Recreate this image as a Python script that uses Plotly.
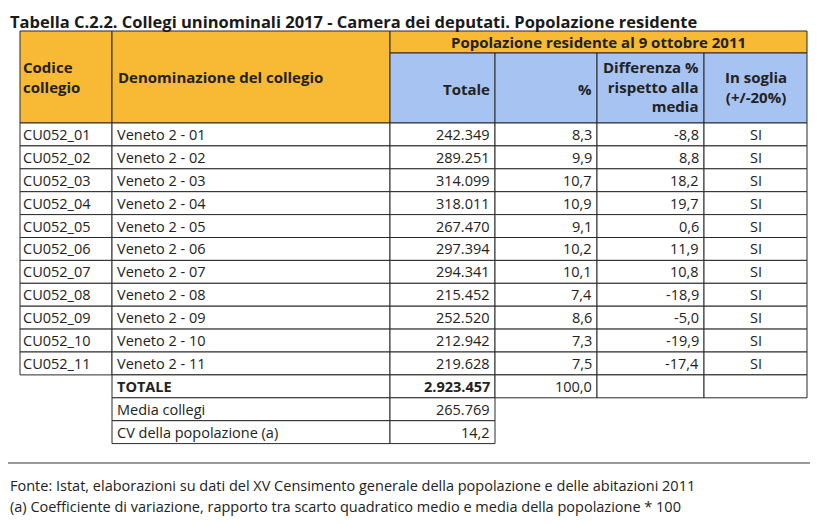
import plotly.graph_objects as go

# dati della tabella
codici = ["CU052_01", "CU052_02", "CU052_03", "CU052_04", "CU052_05", "CU052_06",
          "CU052_07", "CU052_08", "CU052_09", "CU052_10", "CU052_11"]
collegi = ["Veneto 2 - 01", "Veneto 2 - 02", "Veneto 2 - 03", "Veneto 2 - 04",
           "Veneto 2 - 05", "Veneto 2 - 06", "Veneto 2 - 07", "Veneto 2 - 08",
           "Veneto 2 - 09", "Veneto 2 - 10", "Veneto 2 - 11"]
totale = ["242.349", "289.251", "314.099", "318.011", "267.470", "297.394",
          "294.341", "215.452", "252.520", "212.942", "219.628"]
perc = ["8,3", "9,9", "10,7", "10,9", "9,1", "10,2", "10,1", "7,4", "8,6", "7,3", "7,5"]
diff_media = ["-8,8", "8,8", "18,2", "19,7", "0,6", "11,9", "10,8", "-18,9", "-5,0", "-19,9", "-17,4"]
soglia = ["SI"] * 11

riep_label = ["TOTALE", "Media collegi", "CV della popolazione (a)"]
riep_valore = ["2.923.457", "265.769", "14,2"]
riep_perc = ["100,0", None, None]

titolo = "Tabella C.2.2. Collegi uninominali 2017 - Camera dei deputati. Popolazione residente"
gruppo = "Popolazione residente al 9 ottobre 2011"
intest = ["Codice<br>collegio", "Denominazione del collegio", "Totale", "%",
          "Differenza %<br>rispetto alla<br>media", "In soglia<br>(+/-20%)"]
note = ["Fonte: Istat, elaborazioni su dati del XV Censimento generale della popolazione e delle abitazioni 2011",
        "(a) Coefficiente di variazione, rapporto tra scarto quadratico medio e media della popolazione * 100"]

# geometria (coordinate di pagina; la pagina ha un margine di 8px)
W, H = 821, 524
OFF = 8
cx = [20, 112, 390, 495, 597, 704, 807]
top, band, hdr = 31, 53, 123
rh = 22.9
ORANGE = "#F8B935"
BLUE = "#A7C3F2"
LINE = "#2a2a2a"
TXT = "#222222"
FONT = "Open Sans"
FS = 14.5
FH = 15

fig = go.Figure()
shapes = []
ann = []


def cell(x0, x1, y0, y1, fill="white"):
    shapes.append(dict(type="rect", xref="x", yref="y", x0=x0, x1=x1, y0=y0, y1=y1,
                       fillcolor=fill, line=dict(color=LINE, width=1), layer="below"))


def text(x, y, s, anchor="left", bold=False, size=FS):
    if bold:
        s = "<b>" + s + "</b>"
    ann.append(dict(x=x, y=y, xref="x", yref="y", text=s, showarrow=False,
                    xanchor=anchor, yanchor="middle", align=anchor,
                    font=dict(family=FONT, size=size, color=TXT)))


# intestazioni
cell(cx[0], cx[1], top, hdr, ORANGE)
cell(cx[1], cx[2], top, hdr, ORANGE)
cell(cx[2], cx[6], top, band, ORANGE)
for i in range(2, 6):
    cell(cx[i], cx[i + 1], band, hdr, BLUE)

hm = (top + hdr) / 2
bm = (band + hdr) / 2
text(cx[0] + 1, hm, intest[0], bold=True, size=FH)
text(cx[1] + 4, hm, intest[1], bold=True, size=FH)
text((cx[2] + cx[6]) / 2, (top + band) / 2, gruppo, anchor="center", bold=True, size=FH)
text(cx[3] - 3, bm + 1, intest[2], anchor="right", bold=True, size=FH)
text(cx[4] - 3, bm + 1, intest[3], anchor="right", bold=True, size=FH)
text(cx[5] - 3, bm - 2, intest[4], anchor="right", bold=True, size=FH)
text((cx[5] + cx[6]) / 2, bm - 1, intest[5], anchor="center", bold=True, size=FH)

# righe dei collegi
for r in range(len(codici)):
    y0 = hdr + r * rh
    y1 = y0 + rh
    ym = (y0 + y1) / 2
    for i in range(6):
        cell(cx[i], cx[i + 1], y0, y1)
    text(cx[0] + 1, ym, codici[r])
    text(cx[1] + 3, ym, collegi[r])
    text(cx[3] - 3, ym, totale[r], anchor="right")
    text(cx[4] - 3, ym, perc[r], anchor="right")
    text(cx[5] - 3, ym, diff_media[r], anchor="right")
    text((cx[5] + cx[6]) / 2, ym, soglia[r], anchor="center")

# righe di riepilogo
base = hdr + len(codici) * rh
for r in range(len(riep_label)):
    y0 = base + r * rh
    y1 = y0 + rh
    ym = (y0 + y1) / 2
    cell(cx[1], cx[2], y0, y1)
    cell(cx[2], cx[3], y0, y1)
    bold = r == 0
    text(cx[1] + 3, ym, riep_label[r], bold=bold)
    text(cx[3] - 3, ym, riep_valore[r], anchor="right", bold=bold)
    if riep_perc[r] is not None:
        for i in range(3, 6):
            cell(cx[i], cx[i + 1], y0, y1)
        text(cx[4] - 3, ym, riep_perc[r], anchor="right")

# titolo, linea e note
ann.append(dict(x=OFF, y=OFF, xref="x", yref="y", text="<b>" + titolo + "</b>", showarrow=False,
                xanchor="left", yanchor="top", font=dict(family=FONT, size=16.5, color="#1a1a1a")))
shapes.append(dict(type="line", xref="x", yref="y", x0=OFF, x1=810, y0=463, y1=463,
                   line=dict(color="#333333", width=1.2)))
for k, s in enumerate(note):
    ann.append(dict(x=OFF, y=485 + k * 21, xref="x", yref="y", text=s, showarrow=False,
                    xanchor="left", yanchor="middle", font=dict(family=FONT, size=14.5, color=TXT)))

fig.update_layout(
    width=W - OFF, height=H - OFF, margin=dict(l=0, r=0, t=0, b=0),
    paper_bgcolor="white", plot_bgcolor="white",
    xaxis=dict(range=[OFF, W], visible=False, fixedrange=True),
    yaxis=dict(range=[H, OFF], visible=False, fixedrange=True),
    shapes=shapes, annotations=ann, showlegend=False,
)

fig.write_html("out.html")
